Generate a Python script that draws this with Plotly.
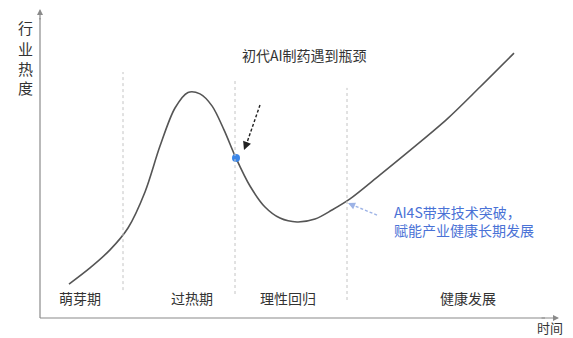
import plotly.graph_objects as go

# Hype-cycle curve: time (0-100) vs industry heat (0-100)
time_vals = [5.8, 10, 14, 17.6, 21, 24, 27, 29.6, 32, 34.4, 36.8, 39.2, 42, 45, 48, 51.4,
             55, 58.4, 62, 68, 74.6, 81.4, 88, 94.8]
heat_vals = [11.3, 16.7, 22.7, 30, 42, 57.3, 70, 75.2, 74.7, 70.7, 62.7, 53.3, 44, 37, 33.3, 32,
             33, 36, 39.7, 47.7, 56.7, 66.3, 77, 88.3]

bottleneck_point = [39.2, 53.3]

phase_bounds = [16.6, 39, 61.4]
phase_tops = [82, 80, 76.7]
phase_bottoms = [9.3, 8, 6]

phase_names = ["萌芽期", "过热期", "理性回归", "健康发展"]
phase_centers = [8, 30.4, 49.6, 85.6]

y_label_chars = ["行", "业", "热", "度"]
x_label = "时间"
note_top = "初代AI制药遇到瓶颈"
note_blue = "AI4S带来技术突破，<br>赋能产业健康长期发展"

FONT = "Noto Sans CJK SC, Microsoft YaHei, sans-serif"
AXC = "#8a8a8a"

fig = go.Figure()
fig.add_trace(go.Scatter(x=time_vals, y=heat_vals, mode="lines",
                         line=dict(color="#555555", width=1.6, shape="spline", smoothing=0.9),
                         hoverinfo="skip", showlegend=False))
fig.add_trace(go.Scatter(x=[bottleneck_point[0]], y=[bottleneck_point[1]], mode="markers",
                         marker=dict(color="#3b86e8", size=8), showlegend=False))

shapes = []
for b, t0, b0 in zip(phase_bounds, phase_tops, phase_bottoms):
    shapes.append(dict(type="line", x0=b, x1=b, y0=b0, y1=t0, xref="x", yref="y",
                       line=dict(color="#c4c4c4", width=1, dash="dot")))
# axes lines
shapes.append(dict(type="line", x0=0, x1=0, y0=0, y1=100, line=dict(color=AXC, width=1.2)))
shapes.append(dict(type="line", x0=0, x1=101, y0=0, y1=0, line=dict(color=AXC, width=1.2)))
# dashed black arrow shaft
shapes.append(dict(type="line", x0=44, y0=71, x1=41.4, y1=58.5,
                   line=dict(color="#222222", width=1.4, dash="3px,2px")))
# dashed blue arrow shaft
shapes.append(dict(type="line", x0=67.4, y0=34.3, x1=62.6, y1=37.6,
                   line=dict(color="#9db3e6", width=1.4, dash="3px,2px")))

annotations = []
# axis arrowheads
annotations.append(dict(x=0, y=103, ax=0, ay=99, xref="x", yref="y", axref="x", ayref="y",
                        showarrow=True, arrowhead=2, arrowsize=1, arrowwidth=1.2, arrowcolor=AXC, text=""))
annotations.append(dict(x=103.8, y=0, ax=100, ay=0, xref="x", yref="y", axref="x", ayref="y",
                        showarrow=True, arrowhead=2, arrowsize=1, arrowwidth=1.2, arrowcolor=AXC, text=""))
# black arrow head
annotations.append(dict(x=40.8, y=56, ax=41.5, ay=59, xref="x", yref="y", axref="x", ayref="y",
                        showarrow=True, arrowhead=2, arrowsize=1.2, arrowwidth=1.4, arrowcolor="#222222", text=""))
# blue arrow head
annotations.append(dict(x=61.6, y=38.3, ax=63, ay=37.3, xref="x", yref="y", axref="x", ayref="y",
                        showarrow=True, arrowhead=2, arrowsize=1.1, arrowwidth=1.3, arrowcolor="#9db3e6", text=""))

for name, c in zip(phase_names, phase_centers):
    annotations.append(dict(x=c, y=6.7, text=name, showarrow=False,
                            font=dict(family=FONT, size=14, color="#333333")))

ypos = [97, 90, 83.3, 76.7]
for ch, yy in zip(y_label_chars, ypos):
    annotations.append(dict(x=-3, y=yy, text=ch, showarrow=False,
                            font=dict(family=FONT, size=15, color="#333333")))

annotations.append(dict(x=102, y=-3, text=x_label, showarrow=False,
                        font=dict(family=FONT, size=13, color="#333333")))
annotations.append(dict(x=52.8, y=87.7, text=note_top, showarrow=False,
                        font=dict(family=FONT, size=14, color="#333333")))
annotations.append(dict(x=70.4, y=32.3, text=note_blue, showarrow=False, xanchor="left", align="left",
                        font=dict(family=FONT, size=14, color="#4a72d6")))

fig.update_layout(
    width=573, height=338, margin=dict(l=0, r=0, t=0, b=0),
    paper_bgcolor="white", plot_bgcolor="white",
    xaxis=dict(range=[-8, 106.6], visible=False, fixedrange=True),
    yaxis=dict(range=[-6.667, 106], visible=False, fixedrange=True),
    shapes=shapes, annotations=annotations, showlegend=False,
)
fig.write_html("out.html")
